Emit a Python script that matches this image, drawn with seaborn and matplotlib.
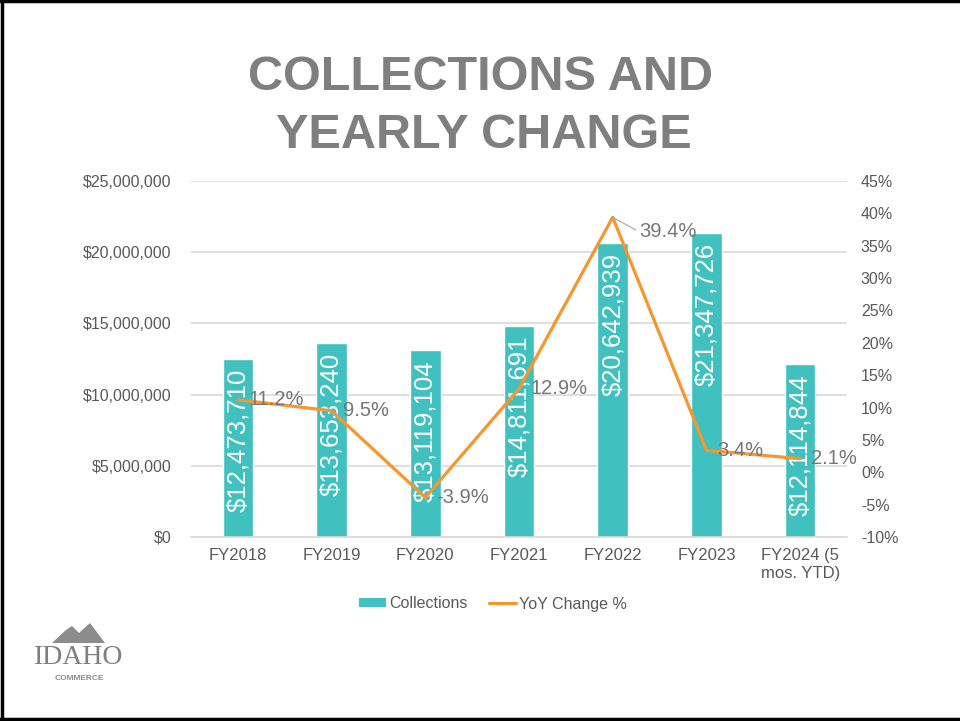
import matplotlib
matplotlib.use("Agg")
import matplotlib.pyplot as plt
import seaborn as sns
import numpy as np
import pandas as pd
from matplotlib.patches import Patch, Polygon
from matplotlib.lines import Line2D
from matplotlib.ticker import FuncFormatter, MultipleLocator

# ---- data ----
categories = ["FY2018", "FY2019", "FY2020", "FY2021", "FY2022", "FY2023", "FY2024 (5\nmos. YTD)"]
collections = [12473710, 13653240, 13119104, 14811691, 20642939, 21347726, 12114844]
yoy_change = [11.2, 9.5, -3.9, 12.9, 39.4, 3.4, 2.1]
title_lines = ["COLLECTIONS AND", "YEARLY CHANGE"]

TEAL = "#40C0BE"
ORANGE = "#F7962F"
GRAY_TXT = "#595959"
GRAY_LBL = "#767676"
GRID = "#D9D9D9"

sns.set_theme(style="white")
plt.rcParams["font.family"] = ["Liberation Sans", "DejaVu Sans"]

W, H = 960, 721
fig = plt.figure(figsize=(W / 100, H / 100), dpi=100)
fig.patch.set_facecolor("white")

left, right, top, bottom = 191, 847, 181, 537
ax = fig.add_axes([left / W, 1 - bottom / H, (right - left) / W, (bottom - top) / H])

df = pd.DataFrame({"cat": categories, "val": collections,
                   "pos": np.arange(len(categories)), "yoy": yoy_change})

sns.barplot(data=df, x="cat", y="val", ax=ax, color=TEAL, saturation=1, width=0.325, zorder=2)
ax.set_xlim(-0.5, len(categories) - 0.5)
ax.set_ylim(0, 25_000_000)
ax.yaxis.set_major_locator(MultipleLocator(5_000_000))
ax.yaxis.set_major_formatter(FuncFormatter(lambda v, p: f"${v:,.0f}"))
ax.set_xlabel("")
ax.set_ylabel("")
ax.set_axisbelow(True)
ax.grid(axis="y", color=GRID, lw=1.2)
ax.grid(axis="x", visible=False)
for s in ["top", "left", "right"]:
    ax.spines[s].set_visible(False)
ax.spines["bottom"].set_color(GRID)
ax.spines["bottom"].set_linewidth(1.2)
ax.tick_params(axis="y", length=0, pad=14, labelsize=11.5, labelcolor=GRAY_TXT)
ax.tick_params(axis="x", length=0, pad=8, labelsize=12, labelcolor=GRAY_TXT)

# bar value labels (inside end, rotated)
for i, v in enumerate(collections):
    ax.annotate(f"${v:,.0f}", xy=(i, v), xytext=(0, -7), textcoords="offset points",
                rotation=90, ha="center", va="top", color="white", fontsize=18.5, zorder=3)

ax2 = ax.twinx()
sns.lineplot(data=df, x="pos", y="yoy", ax=ax2, color=ORANGE, lw=2.3, zorder=4)
ax2.set_ylim(-10, 45)
ax2.yaxis.set_major_locator(MultipleLocator(5))
ax2.yaxis.set_major_formatter(FuncFormatter(lambda v, p: f"{v:.0f}%"))
ax2.set_ylabel("")
ax2.set_xlabel("")
ax2.grid(False)
for s in ax2.spines.values():
    s.set_visible(False)
ax2.tick_params(axis="y", length=0, pad=10, labelsize=11.5, labelcolor=GRAY_TXT)
ax.set_xlim(-0.5, len(categories) - 0.5)

peak = int(np.argmax(yoy_change))
for i, v in enumerate(yoy_change):
    if i == peak:
        ax2.annotate(f"{v:.1f}%", xy=(i, v), xytext=(19, -10.5), textcoords="offset points",
                     ha="left", va="center", color=GRAY_LBL, fontsize=14.5, zorder=5,
                     arrowprops=dict(arrowstyle="-", color="#A6A6A6", lw=0.8,
                                     shrinkA=0, shrinkB=0, relpos=(0, 0.5)))
    else:
        ax2.annotate(f"{v:.1f}%", xy=(i, v), xytext=(8, 0), textcoords="offset points",
                     ha="left", va="center", color=GRAY_LBL, fontsize=14.5, zorder=5)

# legend
handles = [Patch(facecolor=TEAL, edgecolor="none"), Line2D([0], [0], color=ORANGE, lw=2.3)]
fig.legend(handles, ["Collections", "YoY Change %"], loc="center",
           bbox_to_anchor=(493 / W, 1 - 604 / H), ncol=2, frameon=False,
           fontsize=11.5, labelcolor=GRAY_TXT, handlelength=1.7, handleheight=0.5,
           handletextpad=0.2, columnspacing=1.3)

# title
fig.text(480 / W, 1 - 77 / H, title_lines[0], ha="center", va="center",
         fontsize=35, fontweight="bold", color="#7F7F7F")
fig.text(484 / W, 1 - 135 / H, title_lines[1], ha="center", va="center",
         fontsize=35, fontweight="bold", color="#7F7F7F")

# logo (decoration)
mount = [(52, 643), (66, 630), (72, 626), (79, 633), (90, 623), (105, 643)]
fig.add_artist(Polygon([(x / W, 1 - y / H) for x, y in mount], closed=True,
                       transform=fig.transFigure, facecolor="#8C8C8C", edgecolor="none"))
fig.text(79 / W, 1 - 657 / H, "IDAHO", ha="center", va="center", fontsize=20,
         color="#7F7F7F", family=["Liberation Serif", "DejaVu Serif"])
fig.text(79 / W, 1 - 678 / H, "COMMERCE", ha="center", va="center", fontsize=6,
         fontweight="bold", color="#8C8C8C")

# border
for (x0, y0, x1, y1) in [(2, 0, 2, 721), (0, 1, 960, 1), (0, 719, 960, 719)]:
    fig.add_artist(Line2D([x0 / W, x1 / W], [1 - y0 / H, 1 - y1 / H], color="black",
                          lw=2.5, transform=fig.transFigure))

fig.savefig("out.png", dpi=100)
